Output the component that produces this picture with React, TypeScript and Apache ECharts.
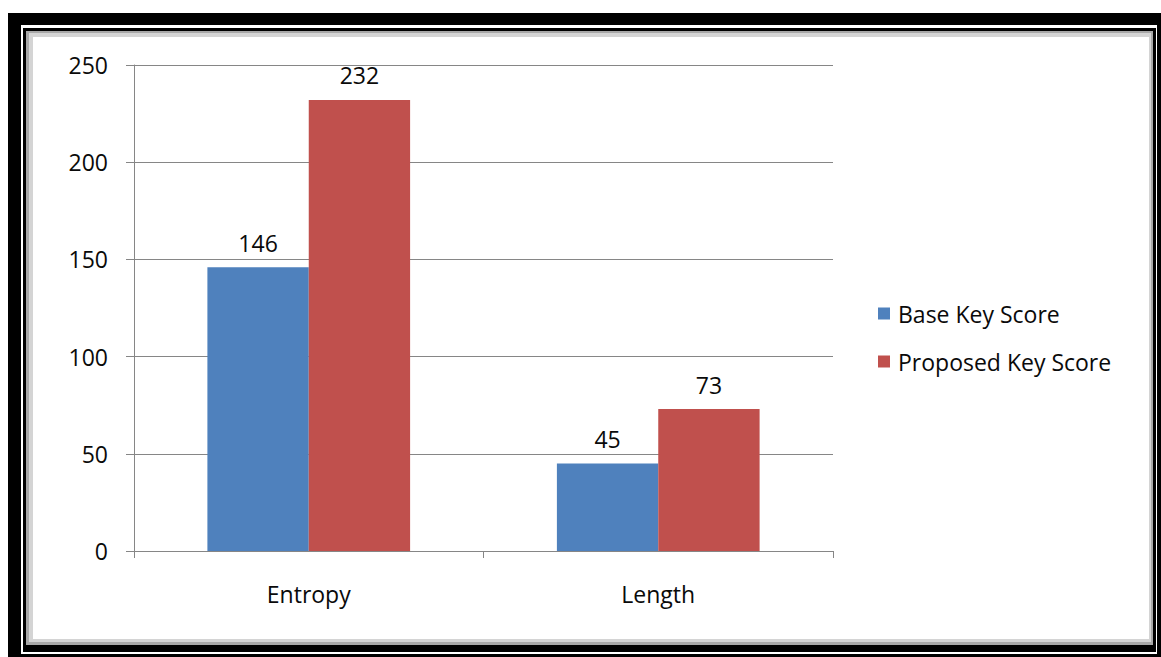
import React, { useEffect, useRef } from "react";
import * as echarts from "echarts";

const categories = ["Entropy", "Length"];
const baseKeyScore = [146, 45];
const proposedKeyScore = [232, 73];
const seriesNames = ["Base Key Score", "Proposed Key Score"];
const yTicks = { min: 0, max: 250, interval: 50 };

const FONT = "'Open Sans', 'Noto Sans', sans-serif";
const FS = 23;
const TXT = "#0a0a0a";

export default function App() {
  const ref = useRef<HTMLDivElement>(null);
  useEffect(() => {
    if (!ref.current) return;
    const chart = echarts.init(ref.current, undefined, { renderer: "svg" });
    const labelStyle = {
      show: true,
      position: "top" as const,
      distance: 13,
      fontFamily: FONT,
      fontSize: FS,
      color: TXT,
    };
    chart.setOption({
      animation: false,
      backgroundColor: "#ffffff",
      graphic: [
        { type: "rect", silent: true, z: -10, shape: { x: 8, y: 13, width: 1153, height: 644 }, style: { fill: "#000" } },
        { type: "rect", silent: true, z: -9, shape: { x: 21, y: 25, width: 1136, height: 629 }, style: { fill: "#fff" } },
        { type: "rect", silent: true, z: -8, shape: { x: 23, y: 28, width: 1133, height: 624 }, style: { fill: "#000" } },
        { type: "rect", silent: true, z: -7, shape: { x: 26, y: 31, width: 1127, height: 614 }, style: { fill: "#a8a8a8" } },
        { type: "rect", silent: true, z: -6, shape: { x: 29, y: 33, width: 1122, height: 609 }, style: { fill: "#d4d4d4" } },
        { type: "rect", silent: true, z: -5, shape: { x: 33, y: 37, width: 1116, height: 602 }, style: { fill: "#fff" } },
      ],
      legend: {
        orient: "vertical",
        left: 873,
        top: 297,
        itemWidth: 12,
        itemHeight: 12,
        itemGap: 25,
        icon: "rect",
        textStyle: { fontFamily: FONT, fontSize: FS, color: TXT, padding: [0, 0, 0, 3] },
        data: seriesNames,
      },
      grid: { left: 134, right: 328, top: 65, bottom: 106, containLabel: false },
      xAxis: {
        type: "category",
        data: categories,
        axisLine: { lineStyle: { color: "#868686", width: 1 } },
        axisTick: { show: true, length: 7, lineStyle: { color: "#868686" } },
        axisLabel: { margin: 31, fontFamily: FONT, fontSize: FS, color: TXT },
      },
      yAxis: {
        type: "value",
        min: yTicks.min,
        max: yTicks.max,
        interval: yTicks.interval,
        axisLine: { show: true, lineStyle: { color: "#868686", width: 1 } },
        axisTick: { show: true, length: 8, lineStyle: { color: "#868686" } },
        splitLine: { lineStyle: { color: "#868686", width: 1 } },
        axisLabel: { margin: 26, fontFamily: FONT, fontSize: FS, color: TXT },
      },
      series: [
        {
          name: seriesNames[0],
          type: "bar",
          data: baseKeyScore,
          barGap: "0%",
          barCategoryGap: "42%",
          itemStyle: { color: "#4F81BD" },
          label: labelStyle,
        },
        {
          name: seriesNames[1],
          type: "bar",
          data: proposedKeyScore,
          barGap: "0%",
          barCategoryGap: "42%",
          itemStyle: { color: "#C0504D" },
          label: labelStyle,
        },
      ],
    });
    return () => chart.dispose();
  }, []);
  return (
    <div
      ref={ref}
      style={{ position: "fixed", left: 0, top: 0, width: 1161, height: 657 }}
    />
  );
}
